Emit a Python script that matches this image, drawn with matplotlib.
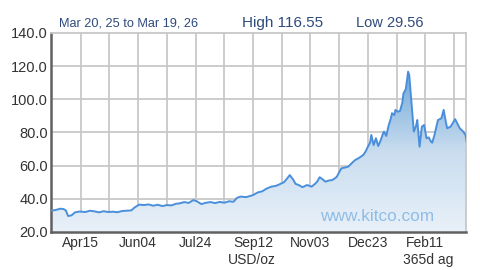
import numpy as np
import matplotlib
matplotlib.use("Agg")
import matplotlib.pyplot as plt
from matplotlib.colors import LinearSegmentedColormap

plt.rcParams['font.family'] = ['Liberation Sans', 'DejaVu Sans']

# days since Mar 20, 25 and price (USD/oz)
days = [0, 4, 8, 11, 13, 15, 18, 21, 25, 30, 34, 38, 42, 46, 50, 54, 58, 62, 66, 70,
        73, 77, 81, 85, 89, 93, 97, 101, 105, 109, 112, 116, 120, 124, 127, 131, 135,
        139, 143, 147, 151, 155, 159, 162, 165, 170, 176, 180, 184, 188, 192, 196, 199,
        203, 206, 208, 211, 213, 216, 219, 221, 223, 225, 227, 230, 232, 234, 237, 239,
        242, 245, 247, 249, 251, 253, 256, 259, 262, 265, 268, 272, 274, 276, 278, 279,
        281, 283, 285, 287, 289, 290, 292, 294, 296, 297, 299, 300, 302, 304, 306, 307,
        309, 311, 312, 313, 314, 316, 318, 319, 321, 323, 325, 326, 327, 329, 331, 332,
        334, 337, 340, 342, 343, 345, 348, 352, 356, 359, 361, 362]
prices = [32.8, 33.2, 34.0, 33.8, 33.0, 29.6, 30.0, 31.8, 32.3, 32.0, 32.8, 32.4, 31.8,
          32.5, 32.0, 32.2, 31.9, 32.6, 32.8, 33.0, 34.8, 36.5, 36.2, 36.6, 35.8, 36.4,
          35.6, 36.2, 36.0, 37.0, 37.2, 38.0, 37.5, 39.2, 38.5, 36.8, 37.6, 38.0, 37.4,
          38.1, 37.6, 38.5, 38.2, 40.5, 41.3, 41.0, 42.2, 43.8, 44.5, 46.2, 47.3, 47.8,
          48.7, 50.0, 52.5, 54.3, 51.5, 49.0, 48.2, 47.0, 47.6, 48.3, 47.8, 47.3, 49.0,
          50.5, 53.0, 51.5, 50.3, 51.0, 51.3, 52.2, 53.3, 56.0, 58.4, 58.8, 59.4, 61.5,
          63.4, 64.5, 66.4, 68.5, 71.4, 74.0, 78.5, 72.4, 76.5, 71.8, 75.0, 79.0, 80.5,
          77.9, 84.0, 88.5, 91.6, 90.5, 93.6, 92.5, 93.0, 98.0, 103.6, 106.0, 116.6,
          114.7, 106.0, 97.6, 80.5, 84.0, 87.5, 71.4, 83.5, 84.5, 80.5, 76.5, 77.0, 74.4,
          73.8, 78.5, 87.5, 88.5, 93.6, 89.5, 82.5, 83.5, 88.0, 82.5, 80.5, 78.5, 74.4]

label_days = [26, 76, 126, 176, 226, 276, 326]
label_text = ['Apr15', 'Jun04', 'Jul24', 'Sep12', 'Nov03', 'Dec23', 'Feb11']
grid_days = [26, 51, 76, 101, 126, 151, 176, 201, 226, 251, 276, 301, 326, 351]
y_ticks = [20, 40, 60, 80, 100, 120, 140]

fig = plt.figure(figsize=(4.8, 2.7), dpi=100)
ax = fig.add_axes([0.106, 0.141, 0.865, 0.737])
ax.set_xlim(0, 361.5)
ax.set_ylim(20, 140)

# grid
for d in grid_days:
    ax.axvline(d, color='#c8c8c8', lw=1.3, zorder=0)
for v in y_ticks[1:-1]:
    ax.axhline(v, color='#c8c8c8', lw=1.3, zorder=0)

# gradient fill under the line
poly = ax.fill_between(days, prices, 20, color='none', lw=0)
cmap = LinearSegmentedColormap.from_list('kf', ['#e9f1f9', '#c9ddef', '#6fa7da'])
grad = np.linspace(0, 1, 256).reshape(-1, 1)
im = ax.imshow(grad, cmap=cmap, origin='lower', aspect='auto',
               extent=[0, 361.5, 20, 117], zorder=1)
im.set_clip_path(poly.get_paths()[0], transform=ax.transData)

ax.plot(days, prices, color='#4a8fdc', lw=1.4, zorder=3)

ax.text(376.7 / 480, 1 - 216.7 / 270, 'www.kitco.com', transform=fig.transFigure,
        ha='center', va='center', fontsize=12.4, color='#8fbde6', zorder=4)

for s in ['top', 'right']:
    ax.spines[s].set_color('#c8c8c8')
    ax.spines[s].set_linewidth(1.3)
for s in ['left', 'bottom']:
    ax.spines[s].set_color('#606060')
    ax.spines[s].set_linewidth(1.8)

ax.set_yticks(y_ticks)
ax.set_yticklabels(['%.1f' % v for v in y_ticks])
ax.set_xticks(label_days)
ax.set_xticklabels(label_text)
ax.tick_params(axis='y', length=0, pad=2, labelsize=10.5, labelcolor='#333333')
ax.tick_params(axis='x', length=0, pad=3, labelsize=10, labelcolor='#333333')

fig.text(252 / 480, 1 - 260 / 270, 'USD/oz', ha='center', va='center',
         fontsize=10, color='#333333')
fig.text(428 / 480, 1 - 260 / 270, '365d ag', ha='center', va='center',
         fontsize=10, color='#333333')

hdr = '#2e4a7d'
fig.text(59 / 480, 1 - 23 / 270, 'Mar 20, 25 to Mar 19, 26', ha='left', va='center',
         fontsize=9.2, color=hdr)
fig.text(242 / 480, 1 - 23 / 270, 'High 116.55', ha='left', va='center',
         fontsize=11, color=hdr)
fig.text(356 / 480, 1 - 23 / 270, 'Low 29.56', ha='left', va='center',
         fontsize=10.5, color=hdr)

fig.savefig('out.png', dpi=100)
